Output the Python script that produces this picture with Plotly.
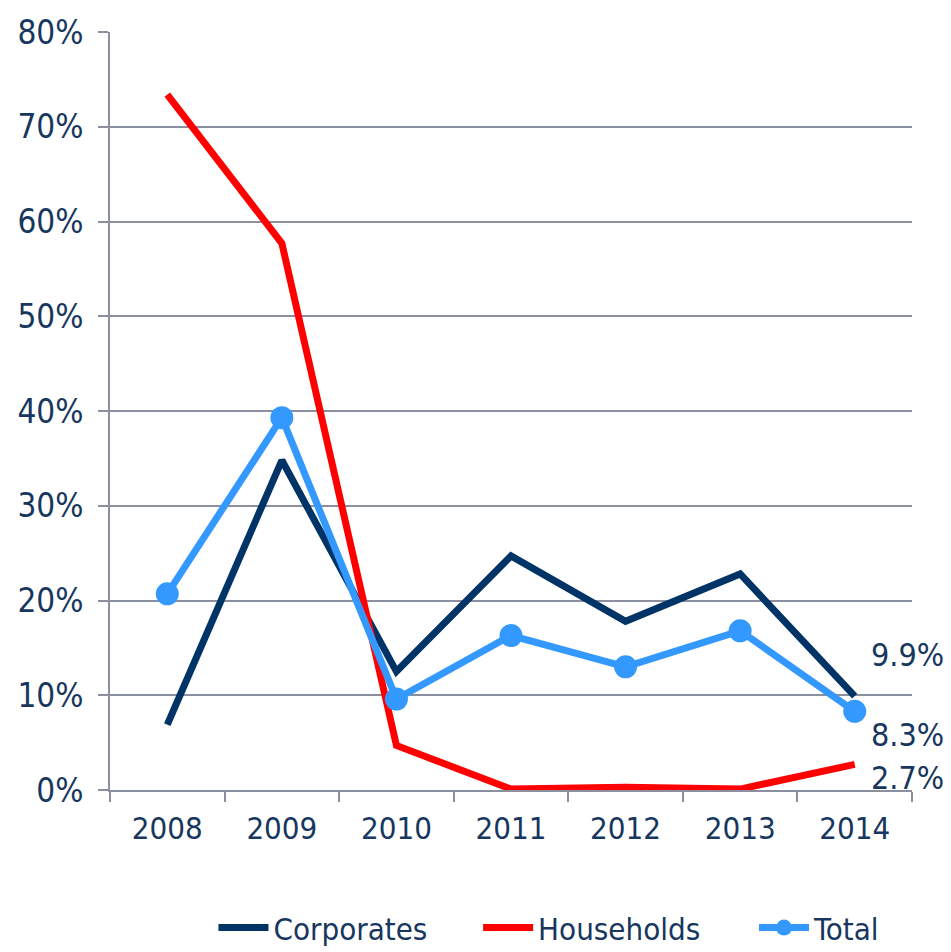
import plotly.graph_objects as go

years = ["2008", "2009", "2010", "2011", "2012", "2013", "2014"]
corporates = [0.069, 0.348, 0.125, 0.247, 0.178, 0.228, 0.099]
households = [0.734, 0.577, 0.047, 0.001, 0.003, 0.001, 0.027]
total = [0.207, 0.393, 0.096, 0.163, 0.130, 0.168, 0.083]

TEXT = "#17375e"
GRID = "#8c8fa0"
FONT = "DejaVu Sans Condensed, DejaVu Sans, sans-serif"

fig = go.Figure()
fig.add_trace(go.Scatter(x=years, y=corporates, name="Corporates", mode="lines",
                         line=dict(color="#003366", width=7), legend="legend"))
fig.add_trace(go.Scatter(x=years, y=households, name="Households", mode="lines",
                         line=dict(color="#ff0000", width=7), legend="legend2"))
fig.add_trace(go.Scatter(x=years, y=total, name="Total", mode="lines+markers",
                         line=dict(color="#3399ff", width=7),
                         marker=dict(size=23, color="#3399ff"), legend="legend3"))

# end-of-line value labels for 2014 (category index of last year)
labels = []
for vals, dy in [(corporates, 41), (total, -24), (households, -14)]:
    labels.append(dict(x=len(years) - 1, y=vals[-1], xref="x", yref="y", text=f"{vals[-1]:.1%}",
                       xanchor="left", yanchor="middle", xshift=14, yshift=dy,
                       showarrow=False, font=dict(size=32, color=TEXT, family=FONT)))

leg = dict(orientation="h", xanchor="left", y=-0.182, yanchor="middle",
           font=dict(size=31, color=TEXT), itemwidth=50, bgcolor="rgba(0,0,0,0)")

fig.update_layout(
    width=951, height=952,
    # page body adds an 8px offset, margins compensate for it
    margin=dict(l=102, r=47, t=24, b=170, autoexpand=False),
    plot_bgcolor="white", paper_bgcolor="white",
    font=dict(family=FONT, size=31, color=TEXT),
    showlegend=True,
    annotations=labels,
    legend=dict(leg, x=0.129),
    legend2=dict(leg, x=0.459),
    legend3=dict(leg, x=0.803),
)
fig.update_xaxes(type="category", showgrid=False, showline=True, linecolor=GRID, linewidth=2,
                 ticks="outside", tickson="boundaries", ticklen=10, tickcolor=GRID, tickwidth=2,
                 range=[-0.5, 6.5], ticklabelstandoff=10)
fig.update_yaxes(range=[0, 0.8], dtick=0.1, tickformat=".0%", showgrid=True, gridcolor=GRID,
                 gridwidth=2, showline=True, linecolor=GRID, linewidth=2, zeroline=False,
                 ticks="outside", ticklen=10, tickcolor=GRID, tickwidth=2, ticklabelstandoff=8,
                 tickfont=dict(size=33))

fig.write_html("out.html")
